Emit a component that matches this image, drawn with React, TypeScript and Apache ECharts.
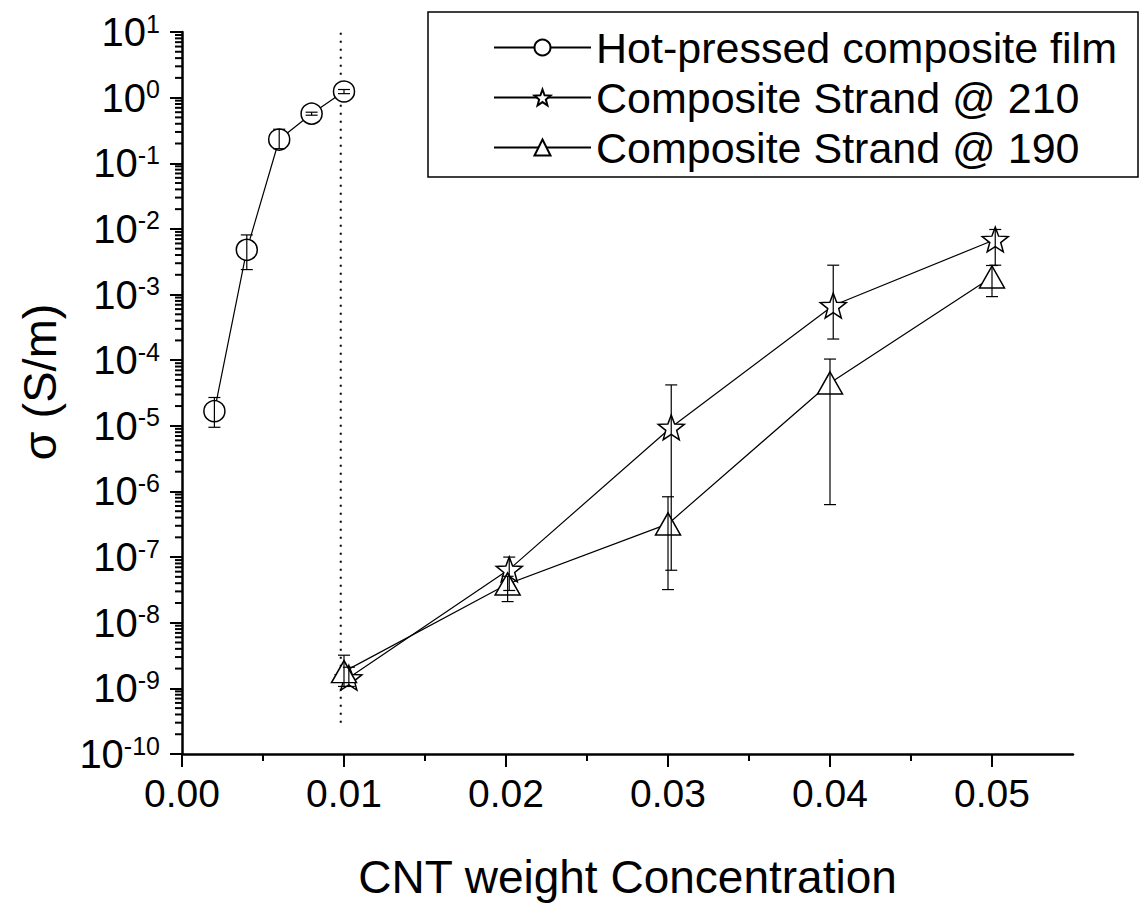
import React, { useEffect, useRef } from 'react';
import * as echarts from 'echarts';

const FONT = 'Liberation Sans, Arial, Helvetica, sans-serif';

// Hot-pressed composite film (circles)
const filmX = [0.002, 0.004, 0.006, 0.008, 0.010];
const filmY = [1.67e-5, 4.8e-3, 0.23, 0.57, 1.24];
const filmLow = [9.5e-6, 2.4e-3, 0.167, 0.54, 1.15];
const filmHigh = [2.7e-5, 8.1e-3, 0.33, 0.6, 1.33];

// Composite Strand @ 210 (stars)
const s210X = [0.0103, 0.0202, 0.0302, 0.0402, 0.0502];
const s210Y = [1.45e-9, 6.5e-8, 9.5e-6, 6.8e-4, 6.9e-3];
const s210Low = [1.07e-9, 3.1e-8, 6.3e-8, 2.1e-4, 2.8e-3];
const s210High = [2.1e-9, 1.0e-7, 4.2e-5, 2.8e-3, 9.8e-3];

// Composite Strand @ 190 (triangles)
const s190X = [0.01, 0.0201, 0.03, 0.04, 0.05];
const s190Y = [1.8e-9, 3.9e-8, 3.2e-7, 4.5e-5, 1.85e-3];
const s190Low = [1.07e-9, 2.1e-8, 3.2e-8, 6.3e-7, 9.3e-4];
const s190High = [3.2e-9, 5.1e-8, 8.3e-7, 1.04e-4, 2.77e-3];

const seriesNames = ['Hot-pressed composite film', 'Composite Strand @ 210', 'Composite Strand @ 190'];

// axis
const xMin = 0;
const xMax = 0.055;
const xMajorTicks = [0, 0.01, 0.02, 0.03, 0.04, 0.05];
const yMin = 1e-10;
const yMax = 10;
const yDecadeExps = [-10, -9, -8, -7, -6, -5, -4, -3, -2, -1, 0];
const yMinorMultipliers = [2, 3, 4, 5, 6, 7, 8, 9];

// dotted threshold line
const thresholdX = 0.0098;
const thresholdY = [3e-10, 10];

const STAR =
  'path://M50 0 L62.34 33.01 L97.55 34.55 L69.97 56.49 L79.39 90.45 L50 71 L20.61 90.45 L30.03 56.49 L2.45 34.55 L37.66 33.01 Z';

function zip2(xs: number[], ys: number[]) {
  return xs.map((x, i) => [x, ys[i]]);
}
function zip3(xs: number[], lo: number[], hi: number[]) {
  return xs.map((x, i) => [x, lo[i], hi[i]]);
}

const errRender = (params: any, api: any) => {
  const x = api.value(0);
  const lo = api.value(1);
  const hi = api.value(2);
  const p1 = api.coord([x, lo]);
  const p2 = api.coord([x, hi]);
  const w = 6;
  const style = { stroke: '#000', lineWidth: 1.2, fill: 'none' };
  return {
    type: 'group',
    children: [
      { type: 'line', shape: { x1: p1[0], y1: p1[1], x2: p2[0], y2: p2[1] }, style },
      { type: 'line', shape: { x1: p1[0] - w, y1: p1[1], x2: p1[0] + w, y2: p1[1] }, style },
      { type: 'line', shape: { x1: p2[0] - w, y1: p2[1], x2: p2[0] + w, y2: p2[1] }, style },
    ],
  };
};

const yMinorData: number[][] = [];
yDecadeExps.forEach((e) => {
  yMinorMultipliers.forEach((m) => yMinorData.push([0, m * Math.pow(10, e)]));
});

const App: React.FC = () => {
  const ref = useRef<HTMLDivElement>(null);
  useEffect(() => {
    if (!ref.current) return;
    const chart = echarts.init(ref.current, undefined, { renderer: 'svg' });
    const markerStyle = { color: '#fff', borderColor: '#000', borderWidth: 1.5 };
    const lineStyle = { color: '#000', width: 1.2 };
    const option: any = {
      animation: false,
      backgroundColor: '#fff',
      textStyle: { fontFamily: FONT },
      grid: { left: 182, right: 68, top: 32, bottom: 148, containLabel: false },
      legend: {
        show: true,
        data: seriesNames,
        orient: 'vertical',
        left: 488,
        top: 21,
        itemWidth: 97,
        itemHeight: 20,
        itemGap: 7,
        selectedMode: false,
        textStyle: { fontSize: 43, fontFamily: FONT, color: '#000' },
      },
      graphic: [
        {
          type: 'rect',
          shape: { x: 428, y: 12, width: 710, height: 165 },
          style: { fill: 'none', stroke: '#000', lineWidth: 1.5 },
          z: 10,
        },
        {
          type: 'text',
          x: 39,
          y: 382,
          rotation: Math.PI / 2,
          style: {
            text: 'σ (S/m)',
            fontSize: 47,
            fontFamily: FONT,
            fill: '#000',
            align: 'center',
            verticalAlign: 'middle',
          },
        },
      ],
      xAxis: {
        type: 'value',
        min: xMin,
        max: xMax,
        interval: 0.005,
        name: 'CNT weight Concentration',
        nameLocation: 'middle',
        nameGap: 100,
        nameTextStyle: { fontSize: 46, fontFamily: FONT, color: '#000' },
        axisLine: { show: true, onZero: false, lineStyle: { color: '#000', width: 2.5 } },
        axisTick: { show: true, inside: false, length: 7, lineStyle: { color: '#000', width: 2 } },
        axisLabel: {
          margin: 20,
          fontSize: 39,
          fontFamily: FONT,
          color: '#000',
          showMaxLabel: false,
          formatter: (v: number) => {
            const k = v * 100;
            return Math.abs(k - Math.round(k)) < 1e-6 ? v.toFixed(2) : '';
          },
        },
        splitLine: { show: false },
      },
      yAxis: {
        type: 'log',
        logBase: 10,
        min: yMin,
        max: yMax,
        interval: 1,
        axisLine: { show: true, onZero: false, lineStyle: { color: '#000', width: 2.5 } },
        axisTick: { show: true, inside: false, length: 12, lineStyle: { color: '#000', width: 2 } },
        minorTick: { show: false },
        axisLabel: {
          margin: 22,
          color: '#000',
          fontFamily: FONT,
          formatter: (v: number) => {
            const e = Math.round(Math.log10(v));
            return '{b|10}{s|' + e + '}';
          },
          rich: {
            b: { fontSize: 40, fontFamily: FONT, color: '#000', lineHeight: 42 },
            s: { fontSize: 25, fontFamily: FONT, color: '#000', verticalAlign: 'top' },
          },
        },
        splitLine: { show: false },
      },
      series: [
        {
          name: seriesNames[0],
          type: 'line',
          data: zip2(filmX, filmY),
          symbol: 'circle',
          symbolSize: 21,
          showAllSymbol: true,
          itemStyle: markerStyle,
          lineStyle,
          z: 2,
        },
        {
          name: seriesNames[1],
          type: 'line',
          data: zip2(s210X, s210Y),
          symbol: STAR,
          symbolKeepAspect: true,
          symbolSize: 26,
          itemStyle: markerStyle,
          lineStyle,
          z: 2,
        },
        {
          name: seriesNames[2],
          type: 'line',
          data: zip2(s190X, s190Y),
          symbol: 'triangle',
          symbolSize: [25, 22],
          itemStyle: markerStyle,
          lineStyle,
          z: 2,
        },
        {
          name: 'err-film',
          type: 'custom',
          renderItem: errRender,
          data: zip3(filmX, filmLow, filmHigh),
          encode: { x: 0, y: [1, 2] },
          z: 3,
        },
        {
          name: 'err-210',
          type: 'custom',
          renderItem: errRender,
          data: zip3(s210X, s210Low, s210High),
          encode: { x: 0, y: [1, 2] },
          z: 3,
        },
        {
          name: 'err-190',
          type: 'custom',
          renderItem: errRender,
          data: zip3(s190X, s190Low, s190High),
          encode: { x: 0, y: [1, 2] },
          z: 3,
        },
        {
          name: 'threshold',
          type: 'line',
          data: [
            [thresholdX, thresholdY[0]],
            [thresholdX, thresholdY[1]],
          ],
          symbol: 'none',
          lineStyle: { color: '#000', width: 2, type: [2, 6] },
          z: 1,
        },
        {
          name: 'x-major-ticks',
          type: 'custom',
          clip: false,
          data: xMajorTicks.map((x) => [x, yMin]),
          renderItem: (params: any, api: any) => {
            const p = api.coord([api.value(0), api.value(1)]);
            return {
              type: 'line',
              shape: { x1: p[0], y1: p[1], x2: p[0], y2: p[1] + 13 },
              style: { stroke: '#000', lineWidth: 2 },
            };
          },
          z: 4,
        },
        {
          name: 'y-minor-ticks',
          type: 'custom',
          clip: false,
          data: yMinorData,
          renderItem: (params: any, api: any) => {
            const p = api.coord([api.value(0), api.value(1)]);
            return {
              type: 'line',
              shape: { x1: p[0] - 7, y1: p[1], x2: p[0], y2: p[1] },
              style: { stroke: '#000', lineWidth: 2 },
            };
          },
          z: 4,
        },
      ],
    };
    chart.setOption(option);
    return () => chart.dispose();
  }, []);
  return (
    <div
      ref={ref}
      style={{ position: 'absolute', left: 0, top: 0, width: 1141, height: 905, background: '#fff' }}
    />
  );
};

export default App;
